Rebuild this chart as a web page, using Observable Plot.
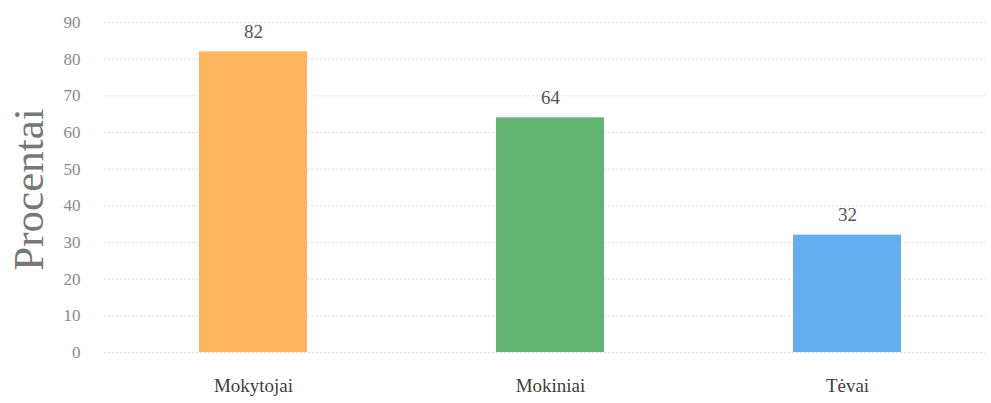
<!DOCTYPE html>
<html>
<head>
<meta charset="utf-8">
<script src="https://cdn.jsdelivr.net/npm/d3@7"></script>
<script src="https://cdn.jsdelivr.net/npm/@observablehq/plot@0.6"></script>
<style>
  html, body { margin: 0; padding: 0; background: #fff; }
</style>
</head>
<body>
<div id="chart"></div>
<script>
const categories = ["Mokytojai", "Mokiniai", "Tėvai"];
const values = [82, 64, 32];
const colors = ["#FDB55E", "#63B473", "#64AEEF"];
const yTicks = [0, 10, 20, 30, 40, 50, 60, 70, 80, 90];

const data = categories.map((c, i) => ({category: c, value: values[i], color: colors[i]}));

const font = "'Liberation Serif', 'DejaVu Serif', serif";

const chart = Plot.plot({
  width: 991,
  height: 403,
  marginLeft: 104,
  marginRight: 6,
  marginTop: 22,
  marginBottom: 51,
  style: {fontFamily: font, background: "#fff"},
  x: {domain: categories, range: [104, 997], paddingInner: 0.636, paddingOuter: 0.318, label: null},
  y: {domain: [0, 90], label: null},
  marks: [
    Plot.ruleY(yTicks, {stroke: "#dedede", strokeDasharray: "2,2", strokeWidth: 1}),
    Plot.barY(data, {x: "category", y: "value", fill: "color"}),
    Plot.text(data, {x: "category", y: "value", text: d => String(d.value), dy: -20, fontSize: 19, fill: "#555"}),
    Plot.axisY({ticks: yTicks, tickSize: 0, tickPadding: 24, fontSize: 17, color: "#8a8a8a", label: null}),
    Plot.axisX({tickSize: 0, tickPadding: 26, fontSize: 19, color: "#3e3e3e", label: null}),
    Plot.text(["Procentai"], {frameAnchor: "left", textAnchor: "middle", dx: -75, dy: 2, rotate: -90, fontSize: 43, fill: "#777", text: d => d})
  ]
});
document.getElementById("chart").appendChild(chart);
</script>
</body>
</html>
